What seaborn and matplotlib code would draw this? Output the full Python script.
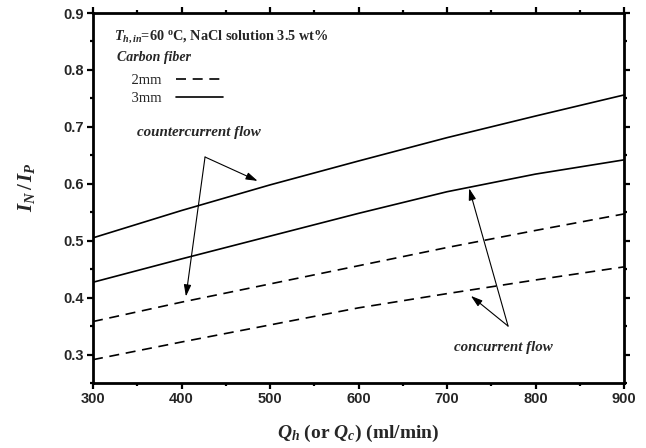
import numpy as np
import pandas as pd
import matplotlib
matplotlib.use("Agg")
import matplotlib.pyplot as plt
import seaborn as sns
from matplotlib.ticker import MultipleLocator
from matplotlib.lines import Line2D

flow = [300, 400, 500, 600, 700, 800, 900]
counter_3mm = [0.505, 0.553, 0.598, 0.640, 0.681, 0.719, 0.756]
concur_3mm = [0.427, 0.468, 0.508, 0.548, 0.586, 0.617, 0.642]
counter_2mm = [0.358, 0.392, 0.424, 0.456, 0.488, 0.518, 0.547]
concur_2mm = [0.291, 0.322, 0.352, 0.382, 0.407, 0.431, 0.454]
legend_labels = ["2mm", "3mm"]

sns.set_theme(style="white")
plt.rcParams["font.family"] = ["Liberation Serif", "DejaVu Serif"]
plt.rcParams["mathtext.fontset"] = "custom"
plt.rcParams["mathtext.rm"] = "Liberation Serif:bold"
plt.rcParams["mathtext.bf"] = "Liberation Serif:bold"
plt.rcParams["mathtext.it"] = "Liberation Serif:bold:italic"

fig = plt.figure(figsize=(6.46, 4.48), dpi=100)
ax = fig.add_axes([93/646, 1-383/448, (624-93)/646, (383-13)/448])

lw = 1.2
dash = (6, 4)
sns.lineplot(x=flow, y=counter_3mm, ax=ax, color="black", lw=lw)
sns.lineplot(x=flow, y=concur_3mm, ax=ax, color="black", lw=lw)
sns.lineplot(x=flow, y=counter_2mm, ax=ax, color="black", lw=lw)
sns.lineplot(x=flow, y=concur_2mm, ax=ax, color="black", lw=lw)
for ln in ax.lines[2:4]:
    ln.set_dashes(dash)

ax.set_xlim(300, 900)
ax.set_ylim(0.25, 0.9)
ax.xaxis.set_major_locator(MultipleLocator(100))
ax.xaxis.set_minor_locator(MultipleLocator(50))
ax.set_yticks([0.3, 0.4, 0.5, 0.6, 0.7, 0.8, 0.9])
ax.yaxis.set_minor_locator(MultipleLocator(0.05))

for s in ax.spines.values():
    s.set_linewidth(2.0)
    s.set_color("black")
ax.tick_params(which="both", direction="out", top=True, right=True,
               bottom=True, left=True, color="black", width=1.6)
ax.tick_params(which="major", length=4.5)
ax.tick_params(which="minor", length=2.5)
for lab in ax.get_xticklabels() + ax.get_yticklabels():
    lab.set_fontfamily("Liberation Sans")
    lab.set_fontweight("bold")
    lab.set_fontsize(10.5)
ax.tick_params(axis="both", pad=2)

ax.set_xlabel(r"$Q_h$ (or $Q_c$) (ml/min)", fontsize=14, fontweight="bold")
ax.xaxis.set_label_coords(0.5, -0.108)
ax.set_ylabel(r"$I_N\,/\,I_P$", fontsize=15)
ax.yaxis.set_label_coords(-0.105, 0.53)

ax.text(0.04, 0.935, r"$T_{h,in}$=60 $^{\mathrm{o}}$C, NaCl solution 3.5 wt%",
        transform=ax.transAxes, fontsize=10.3, fontweight="bold", va="center", ha="left")

handles = [Line2D([], [], color="black", lw=lw, dashes=dash),
           Line2D([], [], color="black", lw=lw)]
leg = ax.legend(handles, ["    " + s for s in legend_labels], title="Carbon fiber",
                markerfirst=False, frameon=False, loc="upper left",
                bbox_to_anchor=(0.045, 0.897),
                prop={"family": "Liberation Serif", "size": 10.5},
                handlelength=3.2, handletextpad=1.0, labelspacing=0.3,
                alignment="left", borderaxespad=0, borderpad=0.0)
leg.get_title().set_fontstyle("italic")
leg.get_title().set_fontweight("bold")
leg.get_title().set_fontsize(10)
leg._legend_box.sep = 7

aprops = dict(arrowstyle="-|>,head_length=0.7,head_width=0.22", color="black", lw=0.8,
              mutation_scale=10, shrinkA=0, shrinkB=0)
ax.text(420, 0.69, "countercurrent flow", fontsize=10.8, fontweight="bold", style="italic",
        ha="center", va="center")
ax.annotate("", xy=(486, 0.605), xytext=(426.6, 0.647), arrowprops=aprops)
ax.annotate("", xy=(405, 0.402), xytext=(426.6, 0.647), arrowprops=aprops)
ax.text(764, 0.312, "concurrent flow", fontsize=10.8, fontweight="bold", style="italic",
        ha="center", va="center")
ax.annotate("", xy=(725, 0.592), xytext=(769, 0.350), arrowprops=aprops)
ax.annotate("", xy=(727, 0.403), xytext=(769, 0.350), arrowprops=aprops)

fig.savefig("out.png", dpi=100, facecolor="white")
